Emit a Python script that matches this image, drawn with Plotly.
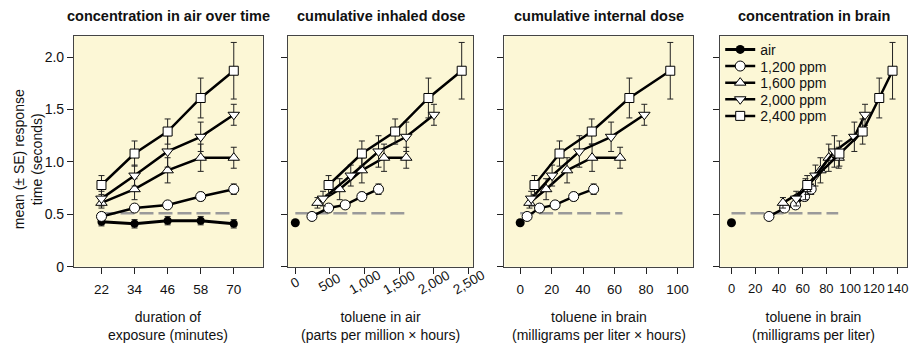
import plotly.graph_objects as go

# ---------------- data ----------------
minutes = [22, 34, 46, 58, 70]
series_names = ["1,200 ppm", "1,600 ppm", "2,000 ppm", "2,400 ppm"]

air_y = [0.43, 0.41, 0.44, 0.44, 0.41]
air_err = [0.04, 0.04, 0.04, 0.04, 0.04]
air_single = 0.42

y_1200 = [0.48, 0.56, 0.59, 0.67, 0.74]
y_1600 = [0.61, 0.74, 0.92, 1.04, 1.04]
y_2000 = [0.65, 0.87, 1.10, 1.24, 1.45]
y_2400 = [0.78, 1.08, 1.29, 1.61, 1.87]
e_1200 = [0.03, 0.03, 0.03, 0.04, 0.05]
e_1600 = [0.05, 0.10, 0.12, 0.13, 0.10]
e_2000 = [0.07, 0.10, 0.15, 0.14, 0.10]
e_2400 = [0.09, 0.12, 0.12, 0.19, 0.27]

# cumulative inhaled dose (ppm x hours)
inh_1200 = [240, 480, 720, 960, 1200]
inh_1600 = [320, 640, 960, 1280, 1600]
inh_2000 = [400, 800, 1200, 1600, 2000]
inh_2400 = [480, 960, 1440, 1920, 2400]

# cumulative internal dose (mg/l x hours)
int_1200 = [4.4, 12.3, 22.2, 34.0, 46.7]
int_1600 = [5.9, 16.5, 29.8, 45.7, 63.5]
int_2000 = [7.0, 20.3, 37.6, 57.8, 78.9]
int_2400 = [9.1, 25.0, 45.5, 69.4, 95.4]

# concentration in brain (mg/l)
br_1200 = [31.6, 44.8, 54.0, 61.6, 67.2]
br_1600 = [43.4, 62.4, 75.0, 82.0, 90.4]
br_2000 = [54.6, 70.8, 86.8, 103.6, 112.6]
br_2400 = [63.9, 91.0, 110.6, 124.6, 135.8]

baseline_y = 0.51
baseline_x = [[22, 70], [0, 1600], [0, 65], [0, 90]]

panel_titles = ["concentration in air over time", "cumulative inhaled dose",
                "cumulative internal dose", "concentration in brain"]
x_titles = ["duration of<br>exposure (minutes)",
            "toluene in air<br>(parts per million × hours)",
            "toluene in brain<br>(milligrams per liter × hours)",
            "toluene in brain<br>(milligrams per liter)"]
y_title = "mean (± SE) response<br>time (seconds)"

x_ticks = [minutes, [0, 500, 1000, 1500, 2000, 2500],
           [0, 20, 40, 60, 80, 100], [0, 20, 40, 60, 80, 100, 120, 140]]
x_ticktext = [[str(v) for v in minutes],
              ["0", "500", "1,000", "1,500", "2,000", "2,500"],
              ["0", "20", "40", "60", "80", "100"],
              ["0", "20", "40", "60", "80", "100", "120", "140"]]
x_ranges = [[12, 80.5], [-110, 2570], [-10, 110], [-9.5, 148]]
y_ticks = [0, 0.5, 1.0, 1.5, 2.0]
y_ticktext = ["0", "0.5", "1.0", "1.5", "2.0"]

# ---------------- style ----------------
W, H = 919, 350
BG = "#fcf7d6"
FRAME = "#444444"
FONT = "Liberation Sans, Arial, Helvetica, sans-serif"
dom_px = [(74, 263), (288, 474), (505, 694), (721, 908)]
y_dom = [1 - 273 / H, 1 - 37 / H]

symbols = ["circle", "triangle-up", "triangle-down", "square"]
msizes = [10, 10, 10, 9]

ys = [y_1200, y_1600, y_2000, y_2400]
es = [e_1200, e_1600, e_2000, e_2400]
xs_by_panel = [
    [minutes] * 4,
    [inh_1200, inh_1600, inh_2000, inh_2400],
    [int_1200, int_1600, int_2000, int_2400],
    [br_1200, br_1600, br_2000, br_2400],
]
legend_ids = ["legend", "legend2", "legend3", "legend4", "legend5"]

fig = go.Figure()


def err(arr):
    return dict(type="data", array=arr, visible=True, color="#222222",
                thickness=1, width=3)


for p in range(4):
    ax = "" if p == 0 else str(p + 1)
    xref, yref = "x" + ax, "y" + ax
    show_leg = (p == 3)
    # dashed baseline
    fig.add_trace(go.Scatter(
        x=baseline_x[p], y=[baseline_y, baseline_y], mode="lines",
        line=dict(color="#9a9a9a", width=2.5, dash="14px,5px"),
        showlegend=False, hoverinfo="skip", xaxis=xref, yaxis=yref))
    # air
    if p == 0:
        fig.add_trace(go.Scatter(
            x=minutes, y=air_y, mode="lines+markers", name="air",
            line=dict(color="black", width=3),
            marker=dict(symbol="circle", size=8, color="black"),
            error_y=err(air_err), showlegend=False,
            xaxis=xref, yaxis=yref))
    else:
        fig.add_trace(go.Scatter(
            x=[0], y=[air_single], mode="lines+markers" if show_leg else "markers",
            name="air",
            line=dict(color="black", width=3),
            marker=dict(symbol="circle", size=9, color="black"),
            showlegend=show_leg, legend=legend_ids[0],
            xaxis=xref, yaxis=yref))
    for i in range(4):
        fig.add_trace(go.Scatter(
            x=xs_by_panel[p][i], y=ys[i], mode="lines+markers",
            name=series_names[i],
            line=dict(color="black", width=2.5),
            marker=dict(symbol=symbols[i], size=msizes[i], color="white",
                        line=dict(color="black", width=1)),
            error_y=err(es[i]), showlegend=show_leg,
            legend=legend_ids[i + 1], xaxis=xref, yaxis=yref))

layout = dict(
    width=W, height=H, margin=dict(l=0, r=0, t=0, b=0),
    paper_bgcolor="white", plot_bgcolor=BG,
    font=dict(family=FONT, size=14, color="#111111"),
    showlegend=True,
)
for k, lid in enumerate(legend_ids):
    layout[lid] = dict(x=721 / W, y=1 - (51 + 17 * k) / H, xanchor="left",
                       yanchor="middle", bgcolor="rgba(0,0,0,0)",
                       font=dict(size=14, family=FONT), itemwidth=30,
                       borderwidth=0)

annotations = []
for p in range(4):
    ax = "" if p == 0 else str(p + 1)
    x0, x1 = dom_px[p]
    xa = dict(domain=[x0 / W, x1 / W], range=x_ranges[p], anchor="y" + ax,
              showline=True, linecolor=FRAME, linewidth=1, mirror=True,
              ticks="outside", ticklen=6, tickcolor="#222222",
              tickvals=x_ticks[p], ticktext=x_ticktext[p], tickangle=0,
              ticklabelstandoff=4,
              showticklabels=(p != 1), showgrid=False, zeroline=False,
              tickfont=dict(size=13.5 if p != 3 else 13))
    ya = dict(domain=y_dom, range=[0, 2.2], anchor="x" + ax,
              showline=True, linecolor=FRAME, linewidth=1, mirror=True,
              ticks="outside", ticklen=6, tickcolor="#222222",
              tickvals=y_ticks, ticktext=y_ticktext,
              showticklabels=(p == 0), showgrid=False, zeroline=False,
              tickfont=dict(size=14))
    layout["xaxis" + ax] = xa
    layout["yaxis" + ax] = ya
    cx = (x0 + x1) / 2 / W
    annotations.append(dict(text="<b>" + panel_titles[p] + "</b>", x=cx,
                            y=1 - 16 / H, xref="paper", yref="paper",
                            showarrow=False, xanchor="center", yanchor="middle",
                            font=dict(size=14.5)))
    annotations.append(dict(text=x_titles[p], x=cx, y=1 - 334 / H,
                            xref="paper", yref="paper", showarrow=False,
                            xanchor="center", yanchor="middle",
                            font=dict(size=14)))

# rotated tick labels for the inhaled-dose panel
for v, t in zip(x_ticks[1], x_ticktext[1]):
    annotations.append(dict(text=t, x=v, y=1 - 289 / H, xref="x2", yref="paper",
                            showarrow=False, textangle=-30, xanchor="center",
                            yanchor="middle", font=dict(size=13.5)))

annotations.append(dict(text=y_title, x=28 / W, y=1 - 163 / H, xref="paper",
                        yref="paper", showarrow=False, textangle=-90,
                        xanchor="center", yanchor="middle",
                        font=dict(size=14)))
layout["annotations"] = annotations

fig.update_layout(**layout)
fig.write_html("out.html")
